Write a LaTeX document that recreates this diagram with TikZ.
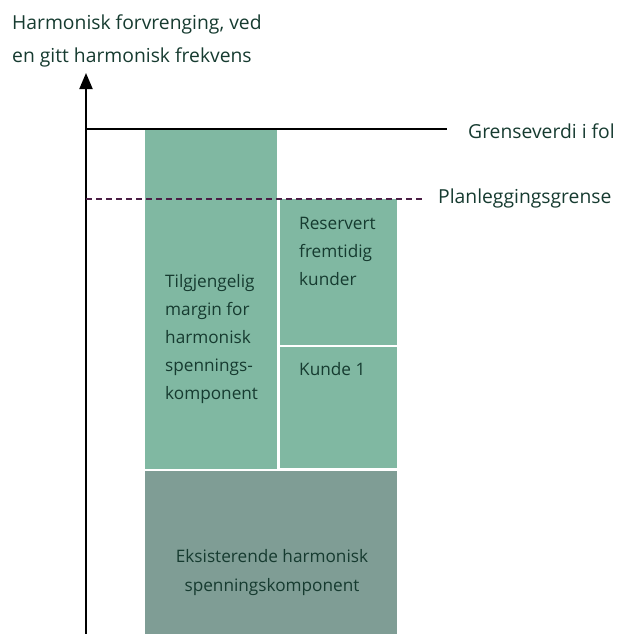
\documentclass[tikz,border=0pt]{standalone}
\usepackage{fontspec}
\setmainfont{Open Sans}
\usetikzlibrary{arrows.meta}
\definecolor{lightgreen}{HTML}{80B8A2}
\definecolor{greygreen}{HTML}{7F9D95}
\definecolor{txtgreen}{HTML}{163B30}
\definecolor{dashpurple}{HTML}{4B1E45}
\tikzset{
  lbl/.style={font=\fontsize{19.3}{22}\selectfont, text=txtgreen, inner sep=0pt, anchor=base west},
  boxlbl/.style={font=\fontsize{17.2}{20}\selectfont, text=txtgreen, inner sep=0pt, anchor=base west},
}
\begin{document}
\begin{tikzpicture}[x=1pt,y=-1pt]
\useasboundingbox (0,0) rectangle (617,634);
% boxes
\fill[lightgreen] (145,129) rectangle (277,469);
\fill[lightgreen] (280,199) rectangle (397,345);
\fill[lightgreen] (280,347) rectangle (397,468);
\fill[greygreen] (145,471) rectangle (397,634);
% axis
\coordinate (axbot) at (86,634);
\coordinate (axtop) at (86,73);
\draw[line width=2pt, -{Triangle[width=13pt,length=16pt]}] (axbot) -- (axtop);
% limit lines
\coordinate (gl) at (86,129);
\coordinate (gr) at (447,129);
\draw[line width=1.8pt] (gl) -- (gr);
\coordinate (pl) at (86,199);
\coordinate (pr) at (425,199);
\draw[line width=1.4pt, dashpurple, dash pattern=on 6pt off 4pt] (pl) -- (pr);
% labels
\node[lbl] (t1) at (12,30) {Harmonisk forvrenging, ved};
\node[lbl] (t2) at (12,63) {en gitt harmonisk frekvens};
\node[lbl] (g) at (468,138) {Grenseverdi i fol};
\node[lbl] (p) at (438,203) {Planleggingsgrense};
\node[boxlbl] (m1) at (165,287) {Tilgjengelig};
\node[boxlbl] (m2) at (165,315) {margin for};
\node[boxlbl] (m3) at (165,343) {harmonisk};
\node[boxlbl] (m4) at (165,371) {spennings-};
\node[boxlbl] (m5) at (165,399) {komponent};
\node[boxlbl] (r1) at (299,229) {Reservert};
\node[boxlbl] (r2) at (299,257) {fremtidig};
\node[boxlbl] (r3) at (299,285) {kunder};
\node[boxlbl] (k1) at (299,375) {Kunde 1};
\node[boxlbl, anchor=base] (e1) at (272,562) {Eksisterende harmonisk};
\node[boxlbl, anchor=base] (e2) at (272,591) {spenningskomponent};
\end{tikzpicture}
\end{document}
